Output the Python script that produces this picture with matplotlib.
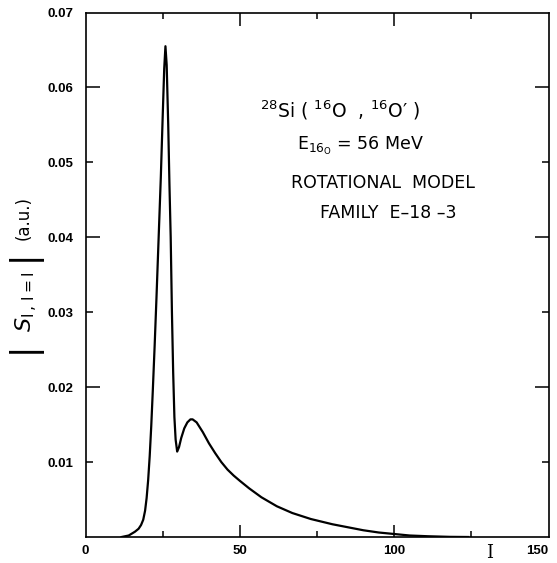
import matplotlib
matplotlib.use("Agg")
import matplotlib.pyplot as plt

# curve: spin I vs |S_I,l=I| (a.u.)
I_VALS = [11.7, 14.0, 16.0, 17.2, 18.0, 18.7, 19.3, 19.8, 20.3, 20.8, 21.3,
          21.8, 22.4, 23.0, 23.7, 24.4, 25.0, 25.5, 25.9, 26.3, 26.8, 27.2,
          27.6, 28.0, 28.4, 28.8, 29.2, 29.7, 30.3, 31.0, 32.0, 33.0, 34.0,
          34.7, 36.0, 38.0, 40.0, 42.0, 44.0, 46.0, 48.0, 50.0, 53.0, 57.0,
          62.0, 67.0, 73.0, 80.0, 85.0, 90.0, 95.0, 100.0, 105.0, 111.0,
          118.0, 124.0]
S_VALS = [0.0, 0.0002, 0.0007, 0.0011, 0.0016, 0.0023, 0.0035, 0.0052,
          0.0076, 0.0108, 0.0148, 0.0195, 0.0255, 0.0320, 0.0400, 0.0480,
          0.0560, 0.0625, 0.0655, 0.0630, 0.0550, 0.0470, 0.0400, 0.0300,
          0.0220, 0.0160, 0.0130, 0.0114, 0.0120, 0.0132, 0.0145, 0.0153,
          0.0157, 0.0157, 0.0153, 0.0140, 0.0125, 0.0112, 0.0100, 0.0090,
          0.0082, 0.0075, 0.0065, 0.0053, 0.0041, 0.0032, 0.0024, 0.0017,
          0.0013, 0.0009, 0.0006, 0.0004, 0.0002, 0.0001, 0.00002, 0.0]

X_TICKS = [0, 25, 50, 75, 100, 125, 150]
X_LABELS = ["0", "", "50", "", "100", "", "150"]
Y_TICKS = [0.01, 0.02, 0.03, 0.04, 0.05, 0.06, 0.07]
Y_LABELS = ["0.01", "0.02", "0.03", "0.04", "0.05", "0.06", "0.07"]

W, H = 557, 563
fig = plt.figure(figsize=(W / 100, H / 100), dpi=100)
ax = fig.add_axes([85.5 / W, 1 - 537 / H, 463 / W, 524.5 / H])

ax.plot(I_VALS, S_VALS, color="black", linewidth=1.6, solid_joinstyle="round")
ax.set_xlim(0, 150)
ax.set_ylim(0, 0.07)

for s in ax.spines.values():
    s.set_linewidth(1.2)

ax.set_xticks(X_TICKS)
ax.set_xticklabels(X_LABELS)
ax.set_yticks(Y_TICKS)
ax.set_yticklabels(Y_LABELS)
ax.tick_params(direction="in", top=True, right=True, width=1.1,
               labelsize=9.5, colors="black")
ax.tick_params(axis="x", pad=6)
ax.tick_params(axis="y", pad=9)
for lab in ax.get_xticklabels() + ax.get_yticklabels():
    lab.set_family("Liberation Sans")
    lab.set_weight("bold")
ax.get_xticklabels()[-1].set_horizontalalignment("right")

# long ticks at 50/100 and even hundredths, short ones in between
for t, v in zip(ax.xaxis.get_major_ticks(), X_TICKS):
    ln = 9 if v in (50, 100) else 4.5
    if v in (0, 150):
        ln = 0
    t.tick1line.set_markersize(ln)
    t.tick2line.set_markersize(ln)
for t, v in zip(ax.yaxis.get_major_ticks(), Y_TICKS):
    ln = 10 if round(v * 100) % 2 == 0 else 5
    if v == 0.07:
        ln = 0
    t.tick1line.set_markersize(ln)
    t.tick2line.set_markersize(ln)

# y label pieces: big bars around S, then (a.u.)
fig.text(24 / W, 1 - 348 / H, "|", rotation=90, ha="center", va="center",
         fontsize=26, family="Liberation Sans")
fig.text(27 / W, 1 - 302 / H, r"$S_{\mathrm{I\,,\,l=I}}$", rotation=90,
         ha="center", va="center", fontsize=16)
fig.text(24 / W, 1 - 256 / H, "|", rotation=90, ha="center", va="center",
         fontsize=26, family="Liberation Sans")
fig.text(24 / W, 1 - 218 / H, "(a.u.)", rotation=90, ha="center",
         va="center", fontsize=12)
fig.text(490 / W, 1 - 553 / H, "I", family="DejaVu Serif", fontsize=13,
         ha="center", va="center")

fs = 12.5
fig.text(340 / W, 1 - 110 / H, r"$^{28}$Si ( $^{16}$O  , $^{16}$O′ )",
         ha="center", va="center", fontsize=13.5)
fig.text(360 / W, 1 - 146 / H, r"E$_{16_{\mathrm{O}}}$ = 56 MeV",
         ha="center", va="center", fontsize=fs)
fig.text(383 / W, 1 - 183 / H, "ROTATIONAL  MODEL",
         ha="center", va="center", fontsize=fs)
fig.text(388 / W, 1 - 213 / H, "FAMILY  E–18 –3",
         ha="center", va="center", fontsize=fs)

fig.savefig("out.png", dpi=100)
